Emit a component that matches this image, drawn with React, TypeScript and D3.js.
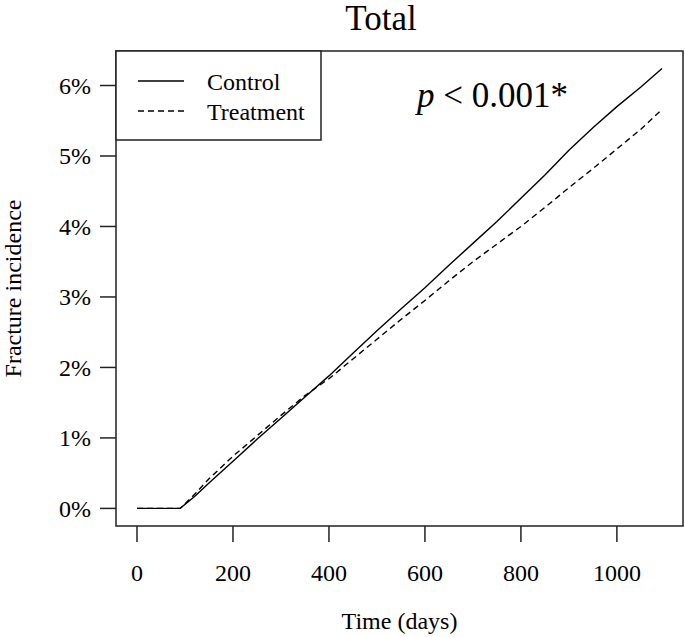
import React from "react";
import * as d3 from "d3";

const controlDays = [0, 90, 120, 150, 200, 250, 300, 350, 400, 450, 500, 550, 600, 650, 700, 750, 800, 850, 900, 950, 1000, 1050, 1094];
const controlPct = [0, 0, 0.17, 0.36, 0.67, 0.98, 1.28, 1.58, 1.88, 2.2, 2.52, 2.83, 3.13, 3.45, 3.76, 4.07, 4.4, 4.73, 5.08, 5.4, 5.7, 5.98, 6.24];
const treatmentDays = [0, 90, 120, 150, 200, 250, 300, 350, 400, 450, 500, 550, 600, 650, 700, 750, 800, 850, 900, 950, 1000, 1050, 1094];
const treatmentPct = [0, 0, 0.2, 0.42, 0.74, 1.03, 1.32, 1.6, 1.84, 2.12, 2.4, 2.68, 2.95, 3.23, 3.5, 3.75, 4.0, 4.27, 4.55, 4.82, 5.1, 5.38, 5.66];
const xTicks = [0, 200, 400, 600, 800, 1000];
const yTicks = [0, 1, 2, 3, 4, 5, 6];
const legendLabels = ["Control", "Treatment"];

const W = 685, H = 637;
const L = 116, R = 683, T = 51, B = 526;
const FONT = "'Liberation Serif', 'Times New Roman', serif";

export default function App() {
  const xMax = 1094, yMax = 6.24;
  const x = d3.scaleLinear().domain([-0.04 * xMax, xMax * 1.04]).range([L, R]);
  const y = d3.scaleLinear().domain([-0.04 * yMax, yMax * 1.04]).range([B, T]);
  const line = d3.line<[number, number]>().x(d => x(d[0])).y(d => y(d[1]));
  const cData = controlDays.map((d, i) => [d, controlPct[i]] as [number, number]);
  const tData = treatmentDays.map((d, i) => [d, treatmentPct[i]] as [number, number]);

  return (
    <svg width={W} height={H} style={{ position: "absolute", left: 0, top: 0, background: "#fff" }} fontFamily={FONT}>
      <rect x={0} y={0} width={W} height={H} fill="#fff" />
      <text x={381} y={30} fontSize={35} textAnchor="middle">Total</text>
      <rect x={L} y={T} width={R - L} height={B - T} fill="none" stroke="#222" strokeWidth={1.5} />
      {xTicks.map(t => (
        <g key={"x" + t}>
          <line x1={x(t)} x2={x(t)} y1={B} y2={B + 16} stroke="#222" strokeWidth={1.5} />
          <text x={x(t)} y={581} fontSize={24} textAnchor="middle">{t}</text>
        </g>
      ))}
      {yTicks.map(t => (
        <g key={"y" + t}>
          <line x1={L - 16} x2={L} y1={y(t)} y2={y(t)} stroke="#222" strokeWidth={1.5} />
          <text x={91} y={y(t)} dy="0.35em" fontSize={24} textAnchor="end">{t + "%"}</text>
        </g>
      ))}
      <text x={(L + R) / 2} y={629} fontSize={24} textAnchor="middle">Time (days)</text>
      <text transform={`translate(21,${(T + B) / 2}) rotate(-90)`} fontSize={24} textAnchor="middle">Fracture incidence</text>
      <path d={line(cData) || ""} fill="none" stroke="#000" strokeWidth={1.4} />
      <path d={line(tData) || ""} fill="none" stroke="#000" strokeWidth={1.4} strokeDasharray="6,4" />
      <rect x={L} y={T} width={205} height={89} fill="#fff" stroke="#222" strokeWidth={1.5} />
      <line x1={138} x2={184} y1={81} y2={81} stroke="#000" strokeWidth={1.4} />
      <line x1={138} x2={184} y1={111} y2={111} stroke="#000" strokeWidth={1.4} strokeDasharray="6,4" />
      <text x={207} y={90} fontSize={24}>{legendLabels[0]}</text>
      <text x={207} y={120} fontSize={24}>{legendLabels[1]}</text>
      <text x={417} y={107} fontSize={35}><tspan fontStyle="italic">p</tspan> &lt; 0.001*</text>
    </svg>
  );
}
